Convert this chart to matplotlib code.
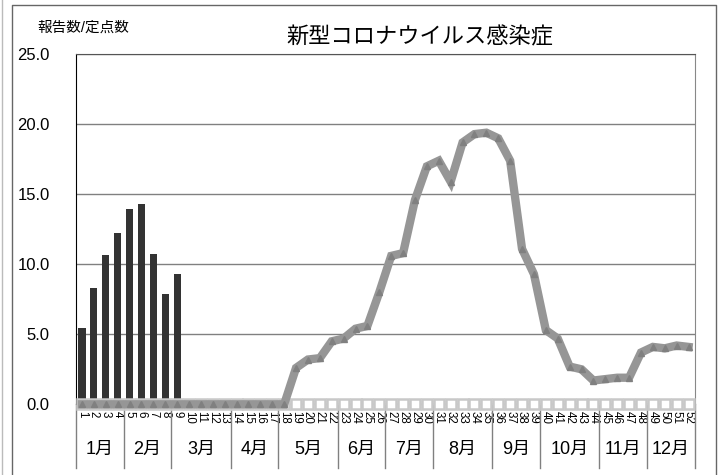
import numpy as np
import matplotlib
matplotlib.use("Agg")
import matplotlib.pyplot as plt
from matplotlib.lines import Line2D

plt.rcParams['font.family'] = ['Liberation Sans', 'Noto Sans CJK JP']

# weekly data
weeks = list(range(1, 53))
week_labels = [str(w) for w in weeks]

bar_weeks = [1, 2, 3, 4, 5, 6, 7, 8, 9]
bar_values = [5.45, 8.3, 10.64, 12.24, 13.97, 14.33, 10.71, 7.88, 9.34]

line_values = [0.0, 0.0, 0.0, 0.0, 0.0, 0.0, 0.0, 0.0, 0.0, 0.0,
               0.0, 0.0, 0.0, 0.0, 0.0, 0.0, 0.0, 0.0, 2.6, 3.2,
               3.3, 4.5, 4.7, 5.4, 5.6, 8.0, 10.6, 10.8, 14.6, 17.0,
               17.4, 15.9, 18.7, 19.3, 19.4, 19.0, 17.4, 11.1, 9.3, 5.3,
               4.7, 2.7, 2.5, 1.7, 1.8, 1.9, 1.9, 3.7, 4.1, 4.0,
               4.2, 4.1]

base_values = [0.0] * 52

months = ["1月", "2月", "3月", "4月", "5月", "6月",
          "7月", "8月", "9月", "10月", "11月", "12月"]
weeks_per_month = [4, 4, 5, 4, 5, 4, 4, 5, 4, 5, 4, 4]

fig = plt.figure(figsize=(7.23, 4.75), dpi=100)
ax = fig.add_axes([0.1051, 0.1488, 0.8555, 0.7369])

ax.bar(bar_weeks, bar_values, width=0.6, color="#333333", zorder=2)
ax.plot(weeks, base_values, color="#c8c8c8", lw=1, marker="s", ms=6.8,
        mfc="white", mec="#c8c8c8", mew=1.8, clip_on=False, zorder=3)
ax.plot(weeks, line_values, color="#969696", lw=6, marker="^", ms=5,
        mfc="#808080", mec="#808080", solid_joinstyle="miter",
        clip_on=False, zorder=4)

ax.set_xlim(0.5, 52.5)
ax.set_ylim(0, 25)
ax.set_yticks(np.arange(0, 25.1, 5))
ax.set_yticklabels([f"{v:.1f}" for v in np.arange(0, 25.1, 5)], fontsize=12)
ax.set_xticks(weeks)
ax.set_xticklabels(week_labels, rotation=270, fontsize=8.3)
ax.tick_params(axis="y", length=0, pad=19)
ax.tick_params(axis="x", length=0, pad=5)

ax.yaxis.grid(True, color="#808080", lw=1)
ax.set_axisbelow(True)
ax.spines["left"].set_color("#000000")
ax.spines["top"].set_color("#555555")
ax.spines["right"].set_color("#888888")
ax.spines["bottom"].set_visible(False)

# month labels and separators under the week numbers
trans = ax.get_xaxis_transform()
edges = np.concatenate([[0.5], 0.5 + np.cumsum(weeks_per_month)])
for e in edges:
    ax.add_line(Line2D([e, e], [0, -0.182], transform=trans, color="#808080",
                       lw=1, clip_on=False, zorder=1))
for m, a, b in zip(months, edges[:-1], edges[1:]):
    ax.text((a + b) / 2, -0.128, m, transform=trans, ha="center", va="center",
            fontsize=13)

fig.text(0.581, 0.92, "新型コロナウイルス感染症", ha="center", va="center",
         fontsize=16)
fig.text(0.115, 0.941, "報告数/定点数", ha="center", va="center", fontsize=10.5)

# outer frame
fig.add_artist(Line2D([12 / 723, 12 / 723, 716 / 723, 716 / 723],
                      [-0.01, 1 - 5 / 475, 1 - 5 / 475, -0.01],
                      transform=fig.transFigure, color="#666666", lw=1))
fig.add_artist(Line2D([1.5 / 723, 1.5 / 723], [0, 1],
                      transform=fig.transFigure, color="#bbbbbb", lw=1))

fig.savefig("out.png", dpi=100)
